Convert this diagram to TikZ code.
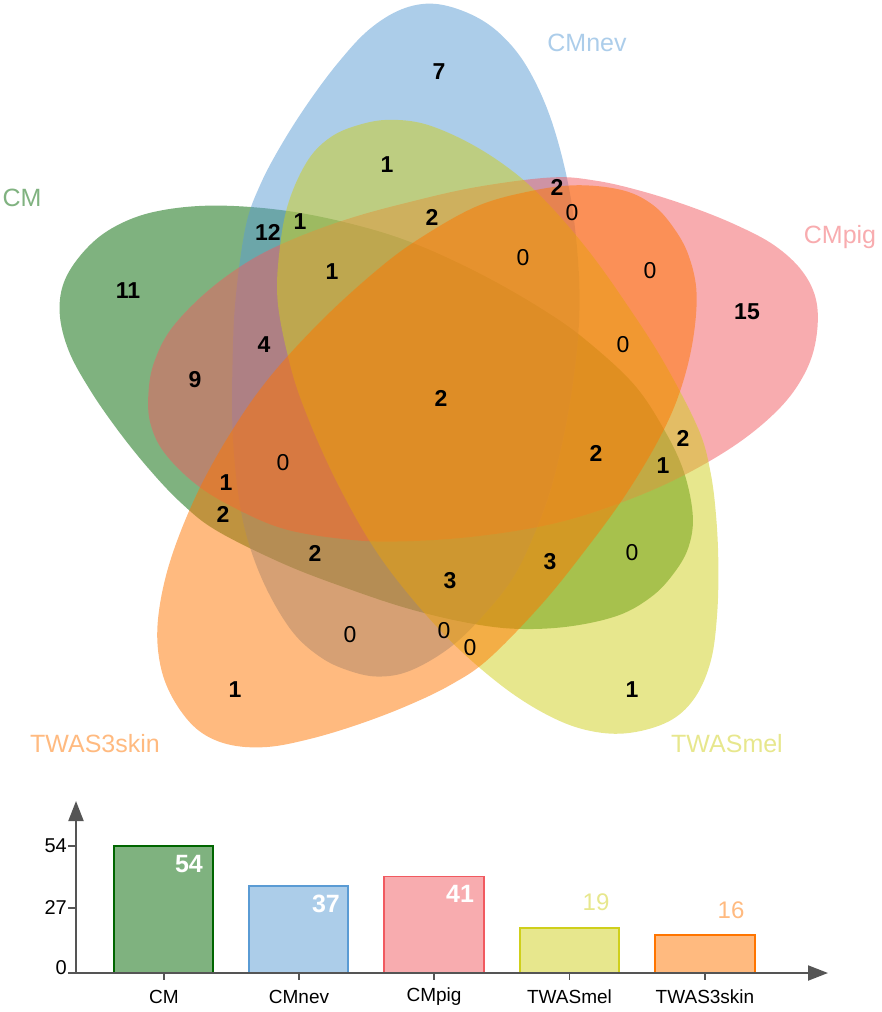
\documentclass[tikz,border=0pt]{standalone}
\usepackage{fontspec}
\setmainfont{Liberation Sans}
\usetikzlibrary{arrows.meta}
\definecolor{cG}{HTML}{006600}
\definecolor{cB}{HTML}{5A9BD4}
\definecolor{cP}{HTML}{F15A60}
\definecolor{cY}{HTML}{CFCF1B}
\definecolor{cO}{HTML}{FF7500}
\definecolor{axisgray}{HTML}{555555}
\tikzset{
  setshape/.style={fill=#1, fill opacity=0.5, draw=none},
  num/.style={font=\fontsize{23}{23}\selectfont\bfseries, inner sep=0pt},
  zero/.style={font=\fontsize{23}{23}\selectfont, inner sep=0pt},
  setlabel/.style={font=\fontsize{25}{25}\selectfont, text=#1!50, inner sep=0pt},
  bar/.style={fill=#1, fill opacity=0.5, draw=#1, draw opacity=1, line width=1.5pt},
  axisline/.style={draw=axisgray, line width=2pt, -{Triangle[length=20pt,width=15pt]}},
  tickline/.style={draw=axisgray, line width=1.5pt},
  ticklabel/.style={font=\fontsize{20}{20}\selectfont, inner sep=0pt},
  catlabel/.style={font=\fontsize{19}{19}\selectfont, inner sep=0pt},
  barval/.style={font=\fontsize{25}{25}\selectfont\bfseries, text=white, inner sep=0pt},
  barvalout/.style={font=\fontsize{24}{24}\selectfont, text=#1!50, inner sep=0pt},
}
% egg template in a local frame: u along the long axis (tip at +u), v across
\newcommand{\eggpath}{plot[smooth cycle, tension=0.6] coordinates {
(-339,-18) (-330,-55) (-311,-86) (-279,-114) (-228,-140) (-160,-161) (-90,-173)
(-25,-177) (50,-172) (120,-161) (170,-148) (230,-124) (275,-92) (308,-60)
(332,-22) (339,10) (334,40) (322,68) (298,97) (256,125) (208,146) (160,158)
(100,166) (37,169) (-32,169) (-107,162) (-150,149) (-192,129) (-235,104)
(-276,76) (-310,47) (-332,15)}}
\begin{document}
\begin{tikzpicture}[x=1pt,y=-1pt]
\path[use as bounding box] (0,0) rectangle (881,1012);
% Venn shapes
\begin{scope}[shift={(375,418)}, rotate=-21]
\path[setshape=cG] \eggpath;
\end{scope}
\begin{scope}[shift={(402,340)}, rotate=-92.5, scale=0.995]
\path[setshape=cB] \eggpath;
\end{scope}
\begin{scope}[shift={(482.5,358.5)}, rotate=-167.4, scale=0.998]
\path[setshape=cP] \eggpath;
\end{scope}
\begin{scope}[shift={(505,426)}, rotate=-237.3, scale=0.995]
\path[setshape=cY] \eggpath;
\end{scope}
\begin{scope}[shift={(428,469.5)}, rotate=-308.8, scale=1.024]
\path[setshape=cO] \eggpath;
\end{scope}
% set labels
\node[setlabel=cB] (lB) at (587,43) {CMnev};
\node[setlabel=cG] (lG) at (22,198) {CM};
\node[setlabel=cP] (lP) at (840,237) {CMpig};
\node[setlabel=cY] (lY) at (727,744) {TWASmel};
\node[setlabel=cO] (lO) at (95,744) {TWAS3skin};
% region numbers
\node[num] (r1) at (439,72) {7};
\node[num] (r2) at (387,165) {1};
\node[num] (r3) at (557,187) {2};
\node[zero] (r4) at (572,213) {0};
\node[num] (r5) at (268,232) {12};
\node[num] (r6) at (300,222) {1};
\node[num] (r7) at (432,217) {2};
\node[num] (r8) at (332,272) {1};
\node[zero] (r9) at (523,258) {0};
\node[zero] (r10) at (650,271) {0};
\node[num] (r11) at (128,291) {11};
\node[num] (r12) at (747,312) {15};
\node[num] (r13) at (264,345) {4};
\node[zero] (r14) at (623,345) {0};
\node[num] (r15) at (195,380) {9};
\node[num] (r16) at (441,398) {2};
\node[num] (r17) at (683,438) {2};
\node[num] (r18) at (596,453) {2};
\node[num] (r19) at (663,466) {1};
\node[zero] (r20) at (283,463) {0};
\node[num] (r21) at (226,483) {1};
\node[num] (r22) at (223,514) {2};
\node[num] (r23) at (315,553) {2};
\node[zero] (r24) at (632,553) {0};
\node[num] (r25) at (550,562) {3};
\node[num] (r26) at (450,581) {3};
\node[zero] (r27) at (350,635) {0};
\node[zero] (r28) at (444,631) {0};
\node[zero] (r29) at (470,648) {0};
\node[num] (r30) at (235,690) {1};
\node[num] (r31) at (632,690) {1};
% bar chart
\coordinate (orig) at (76,973);
\coordinate (ytop) at (76,801);
\coordinate (xend) at (828,973);
\path[bar=cG] (114,973) rectangle (213,846) coordinate (bG);
\path[bar=cB] (249,973) rectangle (348,886) coordinate (bB);
\path[bar=cP] (384,973) rectangle (484,876.5) coordinate (bP);
\path[bar=cY] (520,973) rectangle (619,928) coordinate (bY);
\path[bar=cO] (655,973) rectangle (755,935) coordinate (bO);
\draw[axisline] (orig) -- (ytop);
\draw[axisline] (orig) -- (xend);
\coordinate (t54) at (68,846);
\coordinate (t27) at (68,908);
\coordinate (t0) at (68,973);
\draw[tickline] (t54) -- (76,846);
\draw[tickline] (t27) -- (76,908);
\draw[tickline] (t0) -- (76,973);
\node[ticklabel, anchor=east] (k54) at (67,846) {54};
\node[ticklabel, anchor=east] (k27) at (67,908) {27};
\node[ticklabel, anchor=east] (k0) at (67,968) {0};
\foreach \cx/\nm/\lab in {164/cm/CM, 299/cmnev/CMnev, 434/cmpig/CMpig, 569.5/twasmel/TWASmel, 705/twas/TWAS3skin}{
  \draw[tickline] (\cx,973) -- (\cx,980);
  \node[catlabel] (c\nm) at (\cx,997) {\lab};
}
\node[barval] (v54) at (189,864) {54};
\node[barval] (v37) at (326,904) {37};
\node[barval] (v41) at (460,894) {41};
\node[barvalout=cY] (v19) at (596,902) {19};
\node[barvalout=cO] (v16) at (731,910) {16};
\end{tikzpicture}
\end{document}
